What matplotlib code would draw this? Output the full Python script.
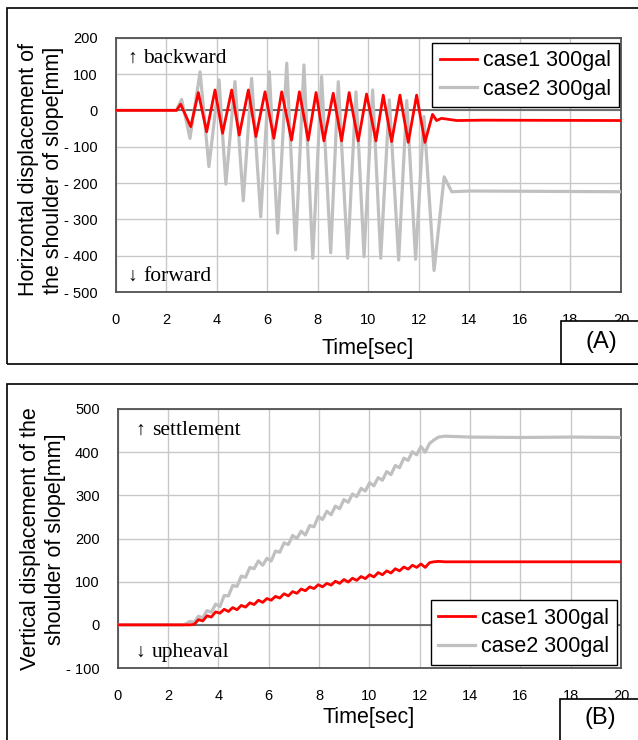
import matplotlib
matplotlib.use("Agg")
import matplotlib.pyplot as plt
from matplotlib.patches import Rectangle
from matplotlib.ticker import FuncFormatter, MultipleLocator

W, H = 638, 740

# -----------------------------
# Data
# -----------------------------
# (A) horizontal displacement: peaks / troughs [sec], [mm]
t_h_case1 = [0, 2.41, 2.57, 2.97, 3.27, 3.60, 3.93, 4.23, 4.59, 4.89, 5.25, 5.55,
             5.91, 6.26, 6.57, 6.96, 7.27, 7.62, 7.93, 8.24, 8.61, 8.94, 9.24, 9.60,
             9.93, 10.30, 10.59, 10.92, 11.25, 11.58, 11.91, 12.24, 12.54, 12.70,
             12.90, 13.50, 14.50, 20]
h_case1 = [0, 0, 17, -45, 49, -59, 56, -63, 56, -68, 56, -72,
           51, -77, 51, -82, 51, -82, 49, -84, 47, -84, 49, -84,
           45, -84, 42, -86, 42, -88, 42, -88, -11, -28,
           -22, -28, -27, -28]

t_h_case2 = [0, 2.40, 2.61, 2.94, 3.34, 3.69, 4.09, 4.36, 4.72, 5.05, 5.38, 5.74,
             6.08, 6.41, 6.77, 7.12, 7.45, 7.80, 8.15, 8.51, 8.81, 9.18, 9.51, 9.83,
             10.17, 10.49, 10.83, 11.20, 11.52, 11.87, 12.20, 12.60, 13.00, 13.30,
             14.00, 20]
h_case2 = [0, 0, 30, -77, 106, -155, 84, -203, 79, -249, 88, -293,
           106, -338, 130, -384, 125, -407, 93, -392, 79, -407, 51, -403,
           56, -407, 29, -412, 27, -410, -17, -441, -183, -224,
           -222, -224]

# (B) vertical displacement [sec], [mm]
t_v = [0, 2.60,
       2.70, 2.87, 3.04, 3.21, 3.38, 3.55, 3.72, 3.89, 4.06, 4.23, 4.40, 4.57,
       4.74, 4.91, 5.08, 5.25, 5.42, 5.59, 5.76, 5.93, 6.10, 6.27, 6.44, 6.61,
       6.78, 6.95, 7.12, 7.29, 7.46, 7.63, 7.80, 7.97, 8.14, 8.31, 8.48, 8.65,
       8.82, 8.99, 9.16, 9.33, 9.50, 9.67, 9.84, 10.01, 10.18, 10.35, 10.52,
       10.69, 10.86, 11.03, 11.20, 11.37, 11.54, 11.71, 11.88, 12.05, 12.22,
       12.39, 12.56,
       12.75, 13.00, 14.00, 16.00, 18.00, 20.00]
v_case1 = [0, 0,
           0, 0, 1, 12, 9, 21, 18, 30, 27, 36, 31, 40,
           35, 45, 41, 51, 47, 57, 52, 61, 57, 66, 62, 72,
           67, 77, 73, 83, 79, 88, 84, 93, 88, 96, 92, 101,
           96, 105, 99, 108, 103, 112, 107, 116, 111, 121, 116,
           125, 120, 130, 125, 134, 129, 138, 133, 141, 133,
           144, 146,
           147, 146, 146, 146, 146, 146]
v_case2 = [0, 0,
           2, 8, 6, 20, 16, 33, 29, 48, 42, 68, 67, 91,
           89, 113, 110, 133, 130, 148, 138, 154, 148, 171, 168, 190,
           186, 207, 200, 217, 208, 230, 227, 251, 244, 263, 255, 275,
           269, 290, 284, 303, 297, 316, 310, 329, 322, 341, 335,
           355, 348, 369, 364, 386, 381, 401, 394, 413, 400,
           420, 428,
           435, 437, 435, 434, 435, 434]

series_labels = ["case1 300gal", "case2 300gal"]
case1_color = "#ff0000"
case2_color = "#c0c0c0"


def px_rect(x0, y0, x1, y1):
    # pixel box (top-left origin) -> figure fraction [left, bottom, w, h]
    return [x0 / W, 1 - y1 / H, (x1 - x0) / W, (y1 - y0) / H]


def fig_box(x0, y0, x1, y1, **kw):
    l, b, w, h = px_rect(x0, y0, x1, y1)
    fig.add_artist(Rectangle((l, b), w, h, transform=fig.transFigure, **kw))


def tick_fmt(v, pos):
    if v < 0:
        return "- %d" % abs(v)
    return "%d" % v


def draw_panel(ax, t1, y1, t2, y2, ylim, ystep):
    ax.plot(t2, y2, color=case2_color, lw=2.3, zorder=3, label=series_labels[1],
            solid_joinstyle="round")
    ax.plot(t1, y1, color=case1_color, lw=2.0, zorder=4, label=series_labels[0],
            solid_joinstyle="round")
    ax.axhline(0, color="#5a5a5a", lw=1.2, zorder=2)
    ax.set_xlim(0, 20)
    ax.set_ylim(*ylim)
    ax.xaxis.set_major_locator(MultipleLocator(2))
    ax.yaxis.set_major_locator(MultipleLocator(ystep))
    ax.yaxis.set_major_formatter(FuncFormatter(tick_fmt))
    ax.grid(True, color="#c8c8c8", lw=1.0)
    ax.set_axisbelow(True)
    for s in ax.spines.values():
        s.set_color("#505050")
        s.set_linewidth(1.3)
    ax.tick_params(length=0, labelsize=10.5, colors="black")
    ax.tick_params(axis="x", pad=15)
    ax.tick_params(axis="y", pad=13)


def add_legend(ax, loc, anchor):
    handles, labels = ax.get_legend_handles_labels()
    leg = ax.legend(handles[::-1], labels[::-1], loc=loc, bbox_to_anchor=anchor,
                    borderaxespad=0, fontsize=15.5, frameon=True, fancybox=False,
                    framealpha=1, edgecolor="black", handlelength=1.7,
                    handletextpad=0.3, borderpad=0.35, labelspacing=0.35)
    leg.get_frame().set_linewidth(1.0)
    leg.set_zorder(6)
    return leg


plt.rcParams["font.family"] = ["Liberation Sans", "DejaVu Sans"]
fig = plt.figure(figsize=(W / 100, H / 100), dpi=100)
serif = ["Liberation Serif", "DejaVu Serif"]

# outer frames
fig_box(7, 8, 660, 364, fill=False, ec="black", lw=1.2)
fig_box(7, 384, 660, 760, fill=False, ec="black", lw=1.2)

# -----------------------------
# Panel A
# -----------------------------
axA = fig.add_axes(px_rect(115.7, 37.7, 621, 292))
draw_panel(axA, t_h_case1, h_case1, t_h_case2, h_case2, (-500, 200), 100)
add_legend(axA, "upper right", (0.9954, 0.98))

axA.text(0.45, 130, "↑", fontsize=14, family=serif, ha="left", va="baseline")
axA.text(1.09, 130, "backward", fontsize=15.5, family=serif, ha="left", va="baseline")
axA.text(0.45, -469, "↓", fontsize=14, family=serif, ha="left", va="baseline")
axA.text(1.09, -469, "forward", fontsize=15.5, family=serif, ha="left", va="baseline")

fig.text(41 / W, 1 - 170 / H, "Horizontal displacement of\nthe shoulder of slope[mm]",
         rotation=90, ha="center", va="center", fontsize=15.5, multialignment="center")
fig.text(368 / W, 1 - 348 / H, "Time[sec]", ha="center", va="center", fontsize=15.5)

fig_box(561, 321, 660, 364, fc="white", ec="black", lw=1.2, zorder=5)
fig.text(601 / W, 1 - 342 / H, "(A)", ha="center", va="center", fontsize=17, zorder=6)

# -----------------------------
# Panel B
# -----------------------------
axB = fig.add_axes(px_rect(117.7, 409, 621, 668))
draw_panel(axB, t_v, v_case1, t_v, v_case2, (-100, 500), 100)
add_legend(axB, "lower right", (0.992, 0.012))

axB.text(0.7, 440, "↑", fontsize=14, family=serif, ha="left", va="baseline")
axB.text(1.35, 440, "settlement", fontsize=15.5, family=serif, ha="left", va="baseline")
axB.text(0.7, -75, "↓", fontsize=14, family=serif, ha="left", va="baseline")
axB.text(1.35, -75, "upheaval", fontsize=15.5, family=serif, ha="left", va="baseline")

fig.text(43 / W, 1 - 539 / H, "Vertical displacement of the\nshoulder of slope[mm]",
         rotation=90, ha="center", va="center", fontsize=15.5, multialignment="center")
fig.text(369 / W, 1 - 718 / H, "Time[sec]", ha="center", va="center", fontsize=15.5)

fig_box(560, 699, 660, 760, fc="white", ec="black", lw=1.2, zorder=5)
fig.text(600 / W, 1 - 718 / H, "(B)", ha="center", va="center", fontsize=17, zorder=6)

fig.savefig("out.png", dpi=100)
